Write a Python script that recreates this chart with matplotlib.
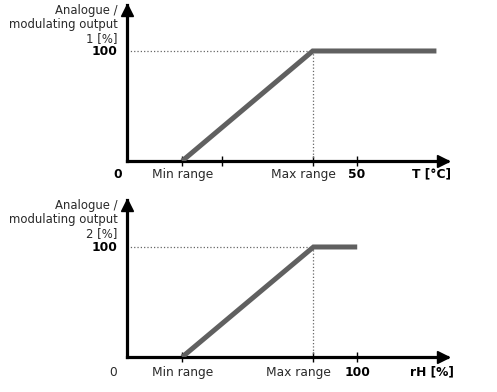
import matplotlib.pyplot as plt

# chart 1: temperature
t_line_x = [12, 40.4, 67.3]
t_line_y = [0, 100, 100]
t_ticks = [12, 20.7, 40.4, 50]
t_xmax, t_ymax = 69.6, 141.8

# chart 2: relative humidity
rh_line_x = [24, 81, 100]
rh_line_y = [0, 100, 100]
rh_ticks = [24, 81, 100]
rh_xmax, rh_ymax = 139, 142.7

LINE_C = '#606060'
TXT_C = '#2a2a2a'
FS = 8.8

plt.rcParams['font.family'] = 'DejaVu Sans'
fig = plt.figure(figsize=(4.97, 3.92), dpi=100)


def draw_panel(ax, line_x, line_y, ticks, xmax, ymax, ylab, zero_bold, end_label,
               max_dx, end_lbl_x, zero_dx, lbl_dy):
    ax.set_xlim(0, xmax)
    ax.set_ylim(0, ymax)
    for s in ['top', 'right']:
        ax.spines[s].set_visible(False)
    for s in ['left', 'bottom']:
        ax.spines[s].set_linewidth(2.3)
        ax.spines[s].set_color('black')
    ax.set_xticks(ticks)
    ax.set_yticks([])
    ax.tick_params(axis='x', direction='inout', length=7, width=1,
                   labelbottom=False, color='black')

    # arrow heads
    ax.plot([xmax - 2.2 * xmax / 320 * 2], [0], marker='>', ms=8, color='black',
            clip_on=False, zorder=5)
    ax.plot([0], [ymax - 5 / 1.1], marker='^', ms=8, color='black',
            clip_on=False, zorder=5)

    xmx = line_x[1]
    # dotted guides
    ax.plot([0, xmx], [100, 100], ls=':', lw=0.9, color='#666666')
    ax.plot([xmx, xmx], [0, 100], ls=':', lw=0.9, color='#666666')
    # characteristic
    ax.plot(line_x, line_y, color=LINE_C, lw=3.6, solid_capstyle='butt',
            solid_joinstyle='miter', zorder=4)

    # y labels
    ax.annotate(ylab, xy=(0, ymax), xytext=(-7, 1), textcoords='offset points',
                ha='right', va='top', fontsize=8.4, color=TXT_C,
                multialignment='right', linespacing=1.1, annotation_clip=False)
    ax.annotate('100', xy=(0, 100), xytext=(-7, -0.5), textcoords='offset points',
                ha='right', va='center', fontsize=FS, fontweight='bold',
                color='black', annotation_clip=False)

    # x labels
    ax.annotate('0', xy=(0, 0), xytext=(zero_dx, lbl_dy), textcoords='offset points',
                ha='center', va='center', fontsize=FS,
                fontweight='bold' if zero_bold else 'normal',
                color='black' if zero_bold else TXT_C, annotation_clip=False)
    ax.annotate('Min range', xy=(line_x[0], 0), xytext=(0, lbl_dy),
                textcoords='offset points', ha='center', va='center',
                fontsize=FS, color=TXT_C, annotation_clip=False)
    ax.annotate('Max range', xy=(xmx, 0), xytext=(max_dx, lbl_dy),
                textcoords='offset points', ha='center', va='center',
                fontsize=FS, color=TXT_C, annotation_clip=False)
    ax.annotate(str(ticks[-1]), xy=(ticks[-1], 0), xytext=(0, lbl_dy),
                textcoords='offset points', ha='center', va='center',
                fontsize=FS, fontweight='bold', color='black',
                annotation_clip=False)
    ax.annotate(end_label, xy=(end_lbl_x, 0), xytext=(0, lbl_dy),
                textcoords='offset points', ha='center', va='center',
                fontsize=FS, fontweight='bold', color='black',
                annotation_clip=False)


ax1 = fig.add_axes([127 / 497, (392 - 161) / 392, 320 / 497, 156 / 392])
draw_panel(ax1, t_line_x, t_line_y, t_ticks, t_xmax, t_ymax,
           'Analogue /\nmodulating output\n1 [%]', True, 'T [°C]',
           -7, (432 - 127) / 4.6, -6.5, -9.5)

ax2 = fig.add_axes([127 / 497, (392 - 357) / 392, 320 / 497, 157 / 392])
draw_panel(ax2, rh_line_x, rh_line_y, rh_ticks, rh_xmax, rh_ymax,
           'Analogue /\nmodulating output\n2 [%]', False, 'rH [%]',
           -11, (432 - 127) / 2.3, -10, -11)

fig.savefig('out.png', dpi=100)
